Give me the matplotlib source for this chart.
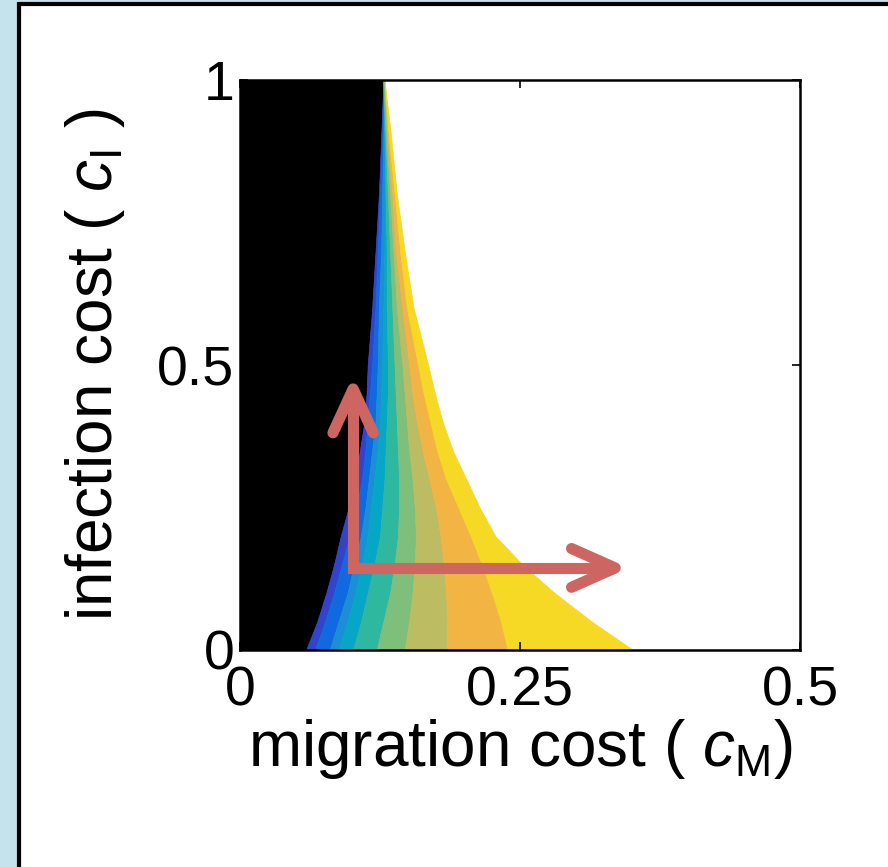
import matplotlib.pyplot as plt
import matplotlib.patches as patches
import numpy as np

# infection cost levels at which band edges were read
ci_levels = [0.0, 0.05, 0.1, 0.15, 0.2, 0.25, 0.3, 0.35, 0.4, 0.45, 0.5, 0.6, 0.7, 0.8, 0.9, 1.0]

# migration cost at the edge of each band (black | 9 colour bands | white)
edge_black = [0.059, 0.069, 0.077, 0.084, 0.090, 0.097, 0.103, 0.107, 0.111, 0.113, 0.114, 0.118, 0.121, 0.124, 0.126, 0.128]
edge_1 = [0.067, 0.076, 0.084, 0.091, 0.098, 0.104, 0.109, 0.112, 0.114, 0.116, 0.118, 0.121, 0.123, 0.125, 0.127, 0.128]
edge_2 = [0.080, 0.088, 0.096, 0.102, 0.108, 0.112, 0.115, 0.118, 0.121, 0.122, 0.123, 0.124, 0.126, 0.127, 0.128, 0.128]
edge_3 = [0.088, 0.096, 0.103, 0.109, 0.114, 0.117, 0.120, 0.123, 0.125, 0.126, 0.127, 0.128, 0.129, 0.129, 0.129, 0.128]
edge_4 = [0.101, 0.108, 0.114, 0.120, 0.125, 0.127, 0.129, 0.130, 0.131, 0.132, 0.132, 0.131, 0.131, 0.130, 0.129, 0.128]
edge_5 = [0.122, 0.128, 0.134, 0.138, 0.141, 0.142, 0.142, 0.141, 0.140, 0.139, 0.138, 0.136, 0.134, 0.132, 0.130, 0.128]
edge_6 = [0.147, 0.151, 0.154, 0.156, 0.157, 0.156, 0.154, 0.151, 0.149, 0.147, 0.145, 0.140, 0.137, 0.134, 0.131, 0.129]
edge_7 = [0.185, 0.185, 0.184, 0.182, 0.179, 0.175, 0.169, 0.163, 0.158, 0.154, 0.151, 0.145, 0.139, 0.136, 0.132, 0.129]
edge_8 = [0.239, 0.233, 0.225, 0.216, 0.206, 0.195, 0.184, 0.176, 0.170, 0.164, 0.159, 0.149, 0.143, 0.138, 0.133, 0.129]
edge_white = [0.351, 0.314, 0.281, 0.252, 0.228, 0.214, 0.202, 0.190, 0.181, 0.174, 0.168, 0.155, 0.147, 0.140, 0.135, 0.129]

band_colors = ['#3344cc', '#1169e0', '#1a8fd6', '#05a6c6', '#2fb8a0',
               '#7dbf7b', '#bcbc62', '#f2b544', '#f5d924']

xticks = [0, 0.25, 0.5]
xticklabels = ['0', '0.25', '0.5']
yticks = [0, 0.5, 1]
yticklabels = ['0', '0.5', '1']

# arrows (corner, vertical tip, horizontal tip)
arrow_corner = (0.101, 0.144)
arrow_up_tip = (0.101, 0.458)
arrow_right_tip = (0.335, 0.144)
arrow_color = '#cd6660'

plt.rcParams['font.family'] = ['Liberation Sans', 'DejaVu Sans']
plt.rcParams['mathtext.fontset'] = 'custom'
plt.rcParams['mathtext.rm'] = 'Liberation Sans'
plt.rcParams['mathtext.it'] = 'Liberation Sans:italic'

W, H = 888, 867
fig = plt.figure(figsize=(W / 100, H / 100), dpi=100, facecolor='#c5e3ec')

# white panel with black border
panel = patches.Rectangle((19 / W, -0.1), 2, 1 - 4.5 / H + 0.1, transform=fig.transFigure,
                          facecolor='white', edgecolor='black', lw=3, zorder=-5)
fig.patches.append(panel)

ax = fig.add_axes([240 / W, (H - 650) / H, 560 / W, 570 / H])
ax.set_zorder(2)
ax.set_facecolor('white')

edges = [edge_black, edge_1, edge_2, edge_3, edge_4, edge_5, edge_6, edge_7, edge_8, edge_white]
ax.fill_betweenx(ci_levels, 0, edge_black, color='black', lw=0.5)
for k, c in enumerate(band_colors):
    ax.fill_betweenx(ci_levels, edges[k], edges[k + 1], facecolor=c, edgecolor=c, lw=0.5)

# arrows
lw_arrow = 8
ax.plot([arrow_up_tip[0], arrow_corner[0], arrow_right_tip[0]],
        [arrow_up_tip[1], arrow_corner[1], arrow_right_tip[1]],
        color=arrow_color, lw=lw_arrow, solid_capstyle='butt', solid_joinstyle='miter')
ax.plot([arrow_up_tip[0] - 0.018, arrow_up_tip[0], arrow_up_tip[0] + 0.018],
        [arrow_up_tip[1] - 0.077, arrow_up_tip[1], arrow_up_tip[1] - 0.077],
        color=arrow_color, lw=lw_arrow, solid_capstyle='round', solid_joinstyle='round')
ax.plot([arrow_right_tip[0] - 0.039, arrow_right_tip[0], arrow_right_tip[0] - 0.039],
        [arrow_right_tip[1] + 0.034, arrow_right_tip[1], arrow_right_tip[1] - 0.034],
        color=arrow_color, lw=lw_arrow, solid_capstyle='round', solid_joinstyle='round')

ax.set_xlim(0, 0.5)
ax.set_ylim(0, 1)
ax.set_xticks(xticks)
ax.set_xticklabels(xticklabels)
ax.set_yticks(yticks)
ax.set_yticklabels(yticklabels)
ax.tick_params(direction='in', length=6, width=1.2, labelsize=40, top=True, right=True)
ax.tick_params(axis='x', pad=11)
ax.tick_params(axis='y', pad=4)
for s in ax.spines.values():
    s.set_linewidth(1.8)

ax.set_xlabel(r'migration cost ( $c_{\mathrm{M}}$)', fontsize=46, labelpad=0)
ax.set_ylabel(r'infection cost ( $c_{\mathrm{I}}$ )', fontsize=46, labelpad=22)

fig.savefig('out.png', dpi=100, facecolor=fig.get_facecolor())
